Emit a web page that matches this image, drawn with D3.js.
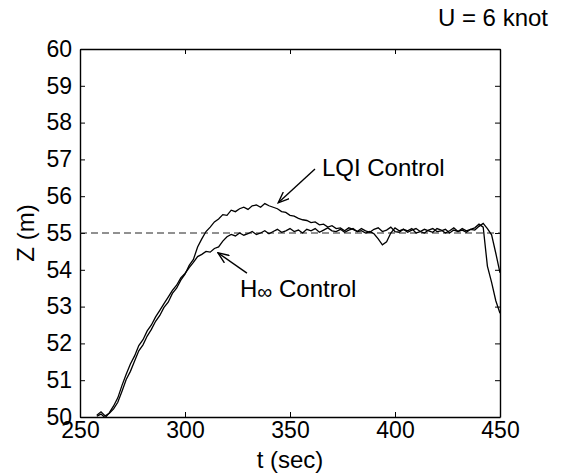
<!DOCTYPE html>
<html>
<head>
<meta charset="utf-8">
<script src="https://cdn.jsdelivr.net/npm/d3@7"></script>
<style>
  body { margin: 0; background: #fff; }
  text { font-family: "Liberation Sans", Arial, sans-serif; fill: #000; }
</style>
</head>
<body>
<div id="chart"></div>
<script>
// time samples (sec)
const timeSec = [
  258, 260, 262, 264, 266, 268, 270, 272, 274, 276,
  278, 280, 282, 284, 286, 288, 290, 292, 294, 296,
  298, 300, 302, 304, 306, 308, 310, 312, 314, 316,
  318, 320, 322, 324, 326, 328, 330, 332, 334, 336,
  338, 340, 342, 344, 346, 348, 350, 352, 354, 356,
  358, 360, 362, 364, 366, 368, 370, 372, 374, 376,
  378, 380, 382, 384, 386, 388, 390, 392, 394, 396,
  398, 400, 402, 404, 406, 408, 410, 412, 414, 416,
  418, 420, 422, 424, 426, 428, 430, 432, 434, 436,
  438, 440, 442, 444, 446, 448, 450
];

// depth Z (m), LQI control
const zLQI = [
  50.05, 50.14, 50.03, 50.10, 50.22, 50.40, 50.70, 51.02, 51.24, 51.52,
  51.80, 51.96, 52.20, 52.38, 52.60, 52.76, 52.98, 53.12, 53.36, 53.50,
  53.72, 53.88, 54.12, 54.28, 54.62, 54.84, 55.04, 55.16, 55.30, 55.38,
  55.50, 55.48, 55.62, 55.58, 55.66, 55.70, 55.64, 55.74, 55.76, 55.70,
  55.80, 55.74, 55.70, 55.66, 55.58, 55.56, 55.48, 55.46, 55.40, 55.36,
  55.34, 55.28, 55.30, 55.22, 55.24, 55.16, 55.20, 55.12, 55.14, 55.06,
  55.14, 55.10, 55.04, 55.12, 55.06, 55.02, 55.10, 55.14, 55.04, 55.08,
  55.16, 55.04, 55.02, 55.10, 55.06, 55.12, 55.00, 55.04, 55.10, 55.06,
  55.02, 55.12, 55.08, 55.00, 55.06, 55.14, 55.04, 55.08, 55.02, 55.10,
  55.14, 55.24, 55.16, 54.10, 53.66, 53.16, 52.82
];

// depth Z (m), H-infinity control
const zHinf = [
  50.02, 50.08, 49.98, 50.12, 50.30, 50.52, 50.86, 51.16, 51.44, 51.66,
  51.94, 52.10, 52.34, 52.50, 52.72, 52.90, 53.08, 53.26, 53.44, 53.58,
  53.78, 53.90, 54.06, 54.20, 54.36, 54.42, 54.50, 54.48, 54.58, 54.62,
  54.78, 54.90, 54.96, 54.92, 55.00, 54.94, 54.98, 55.04, 54.96, 55.00,
  55.06, 54.98, 55.04, 55.10, 55.02, 55.06, 55.12, 55.04, 55.08, 55.00,
  55.10, 55.06, 55.12, 55.02, 55.08, 55.14, 55.06, 55.04, 55.10, 55.02,
  55.08, 55.12, 55.04, 55.06, 55.00, 55.04, 54.98, 54.84, 54.68, 54.76,
  55.00, 55.14, 55.06, 55.10, 55.02, 55.08, 55.12, 55.04, 55.00, 55.08,
  55.12, 55.04, 55.06, 55.10, 55.00, 55.08, 55.04, 55.12, 55.06, 55.10,
  55.08, 55.18, 55.26, 55.12, 54.95, 54.45, 53.92
];

const setpoint = 55;
const xTicks = [250, 300, 350, 400, 450];
const yTicks = [50, 51, 52, 53, 54, 55, 56, 57, 58, 59, 60];

const W = 571, H = 475;
const margin = {top: 49, right: 71, bottom: 58, left: 80};
const width = W - margin.left - margin.right;
const height = H - margin.top - margin.bottom;
const fs = 23;   // tick labels
const fsLabel = 24;

const svg = d3.select('#chart').append('svg')
  .attr('width', W).attr('height', H);

const g = svg.append('g')
  .attr('transform', 'translate(' + margin.left + ',' + margin.top + ')');

const x = d3.scaleLinear().domain([250, 450]).range([0, width]);
const y = d3.scaleLinear().domain([50, 60]).range([height, 0]);

const defs = svg.append('defs');
// clip the traces to the plot box
defs.append('clipPath').attr('id', 'plotClip')
  .append('rect').attr('width', width).attr('height', height);

defs.append('marker')
  .attr('id', 'arrowhead')
  .attr('viewBox', '0 0 12 10')
  .attr('refX', 11).attr('refY', 5)
  .attr('markerWidth', 12).attr('markerHeight', 10)
  .attr('markerUnits', 'userSpaceOnUse')
  .attr('orient', 'auto')
  .append('path')
  .attr('d', 'M0,0.5 L11,5 L0,9.5')
  .attr('fill', 'none')
  .attr('stroke', '#000')
  .attr('stroke-width', 1.4);

// axes: box with inward ticks on all sides
function styleAxis(sel) {
  sel.selectAll('path.domain').attr('stroke', '#000').attr('stroke-width', 1.4);
  sel.selectAll('.tick line').attr('stroke', '#000').attr('stroke-width', 1);
  sel.selectAll('text').attr('font-size', fs).attr('fill', '#000')
    .attr('font-family', '"Liberation Sans", Arial, sans-serif');
}

g.append('g')
  .attr('transform', 'translate(0,' + height + ')')
  .call(d3.axisBottom(x).tickValues(xTicks).tickSizeInner(-5).tickSizeOuter(0).tickPadding(5))
  .call(styleAxis);

g.append('g')
  .call(d3.axisTop(x).tickValues(xTicks).tickSizeInner(-5).tickSizeOuter(0).tickFormat(''))
  .call(styleAxis);

g.append('g')
  .call(d3.axisLeft(y).tickValues(yTicks).tickSizeInner(-5).tickSizeOuter(0).tickPadding(8))
  .call(styleAxis);

g.append('g')
  .attr('transform', 'translate(' + width + ',0)')
  .call(d3.axisRight(y).tickValues(yTicks).tickSizeInner(-5).tickSizeOuter(0).tickFormat(''))
  .call(styleAxis);

// setpoint dashed line
g.append('line')
  .attr('x1', x(250)).attr('x2', x(450))
  .attr('y1', y(setpoint)).attr('y2', y(setpoint))
  .attr('stroke', '#222').attr('stroke-width', 1)
  .attr('stroke-dasharray', '7,4');

const line = d3.line()
  .x((d, i) => x(timeSec[i]))
  .y(d => y(d));

const traces = g.append('g').attr('clip-path', 'url(#plotClip)');
[zHinf, zLQI].forEach(series => {
  traces.append('path')
    .datum(series)
    .attr('d', line)
    .attr('fill', 'none')
    .attr('stroke', '#000')
    .attr('stroke-width', 1.3);
});

// annotations (data coordinates)
g.append('line')
  .attr('x1', x(361.9)).attr('y1', y(56.74))
  .attr('x2', x(344.4)).attr('y2', y(55.82))
  .attr('stroke', '#000').attr('stroke-width', 1.4)
  .attr('marker-end', 'url(#arrowhead)');
g.append('text')
  .attr('x', x(365.2)).attr('y', y(56.55))
  .attr('font-size', fsLabel)
  .text('LQI Control');

g.append('line')
  .attr('x1', x(329.5)).attr('y1', y(53.91))
  .attr('x2', x(315.7)).attr('y2', y(54.46))
  .attr('stroke', '#000').attr('stroke-width', 1.4)
  .attr('marker-end', 'url(#arrowhead)');
const hLabel = g.append('text')
  .attr('x', x(326.2)).attr('y', y(53.26))
  .attr('font-size', fsLabel);
hLabel.append('tspan').text('H');
hLabel.append('tspan').attr('font-size', 21).attr('dy', 2).text('\u221E');
hLabel.append('tspan').attr('dy', -2).text(' Control');

// axis titles
svg.append('text')
  .attr('x', margin.left + width / 2).attr('y', 468)
  .attr('text-anchor', 'middle').attr('font-size', fsLabel)
  .text('t (sec)');

svg.append('text')
  .attr('transform', 'translate(34,' + (margin.top + y(55)) + ') rotate(-90)')
  .attr('text-anchor', 'middle').attr('font-size', fsLabel)
  .text('Z (m)');

svg.append('text')
  .attr('x', 548).attr('y', 26)
  .attr('text-anchor', 'end').attr('font-size', fsLabel)
  .text('U = 6 knot');
</script>
</body>
</html>
